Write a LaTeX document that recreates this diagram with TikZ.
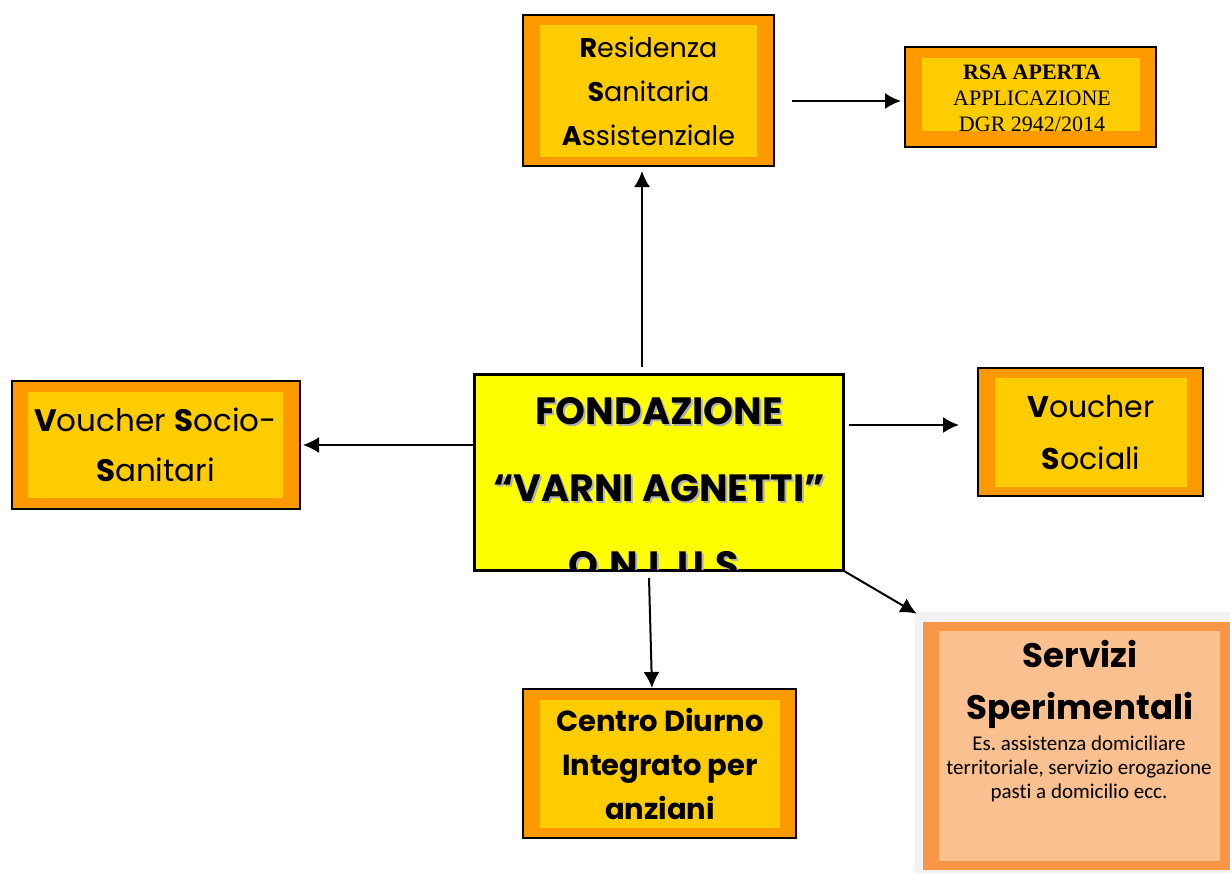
\documentclass[tikz,border=0pt]{standalone}
\usepackage{fontspec}
\setmainfont{Poppins}
\newfontfamily\rsafont{Liberation Serif}
\newfontfamily\descfont[Ligatures=NoCommon]{Carlito}
\usetikzlibrary{arrows.meta}
\definecolor{orangeout}{HTML}{FF9900}
\definecolor{orangein}{HTML}{FFCC00}
\definecolor{yellowfond}{HTML}{FFFF00}
\definecolor{servout}{HTML}{F79646}
\definecolor{servin}{HTML}{FAC090}
\definecolor{servgray}{HTML}{F2F2F2}
\definecolor{textshadow}{HTML}{B0B0B0}
\frenchspacing

\begin{document}
\begin{tikzpicture}[x=0.5pt, y=-0.5pt, >={Latex[length=8pt,width=8pt]},
  outbox/.style={draw, line width=1pt, fill=orangeout, inner sep=0pt},
  inbox/.style={fill=orangein, inner sep=0pt, align=center},
  fondtext/.style={font=\bfseries\fontsize{19}{38.5}\selectfont, align=center, inner sep=0pt},
  arr/.style={->, line width=1pt}]

\useasboundingbox (0,0) rectangle (1230,873);

% Residenza Sanitaria Assistenziale
\node[outbox, minimum width=125.5pt, minimum height=75.5pt] (rsa) at (648.5,90.5) {};
\node[inbox, minimum width=108.5pt, minimum height=66pt, font=\fontsize{13.5}{22}\selectfont] (rsa-in) at (648.5,91)
  {\textbf{R}esidenza\\\textbf{S}anitaria\\\textbf{A}ssistenziale};

% RSA aperta
\node[outbox, minimum width=125.5pt, minimum height=50pt] (aperta) at (1030.5,97) {};
\node[inbox, minimum width=109pt, minimum height=36.5pt] (aperta-in) at (1031,94.5) {};
\node[align=center, inner sep=0pt, font=\rsafont\fontsize{11}{13}\selectfont] (aperta-txt) at (1032,98)
  {\textbf{RSA APERTA}\\APPLICAZIONE\\DGR 2942/2014};

% Fondazione
\node[draw, line width=1pt, fill=yellowfond, minimum width=184pt, minimum height=97.5pt] (fond) at (659,472.5) {};
\begin{scope}
\clip (fond.south west) rectangle (fond.north east);
\node[fondtext, textshadow] (fond-sh) at (661,490) {FONDAZIONE\\“VARNI AGNETTI”\\O.N.L.U.S.};
\node[fondtext] (fond-txt) at (659,488) {FONDAZIONE\\“VARNI AGNETTI”\\O.N.L.U.S.};
\end{scope}
\draw[line width=1pt] (fond.south west) rectangle (fond.north east);

% Voucher Socio-Sanitari
\node[outbox, minimum width=144pt, minimum height=64pt] (vss) at (156,445) {};
\node[inbox, minimum width=127.5pt, minimum height=53pt, font=\fontsize{15.5}{25}\selectfont] (vss-in) at (155.5,445)
  {\textbf{V}oucher \textbf{S}ocio-\\\textbf{S}anitari};

% Voucher Sociali
\node[outbox, minimum width=112.5pt, minimum height=64pt] (vs) at (1090.5,432) {};
\node[inbox, minimum width=96pt, minimum height=54.5pt, font=\fontsize{15}{26}\selectfont] (vs-in) at (1091,432.5)
  {\textbf{V}oucher\\\textbf{S}ociali};

% Centro Diurno Integrato
\node[outbox, minimum width=136.5pt, minimum height=74.5pt] (cdi) at (659.5,763.5) {};
\node[inbox, minimum width=120pt, minimum height=64pt, font=\bfseries\fontsize{14.5}{22}\selectfont] (cdi-in) at (660,764)
  {Centro Diurno\\Integrato per\\anziani};

% Servizi Sperimentali
\node[fill=servgray, inner sep=0pt, minimum width=157.5pt, minimum height=130.5pt] (serv) at (1072.5,742.5) {};
\node[fill=servout, inner sep=0pt, minimum width=153.5pt, minimum height=124pt] (serv-out) at (1076.5,746) {};
\node[fill=servin, inner sep=0pt, minimum width=140.5pt, minimum height=115pt] (serv-in) at (1079.5,746) {};
\node[align=center, inner sep=0pt, font=\bfseries\fontsize{17}{26}\selectfont] (serv-title) at (1080,684)
  {Servizi\\Sperimentali};
\node[align=center, inner sep=0pt, font=\descfont\fontsize{10.5}{12}\selectfont] (serv-desc) at (1079,769)
  {Es. assistenza domiciliare\\territoriale, servizio erogazione\\pasti a domicilio ecc.};

% connectors
\draw[arr] ([xshift=-8.5pt,yshift=3.5pt]fond.north) -- ([xshift=-3.25pt,yshift=-2pt]rsa.south);
\draw[arr, shorten <=8.5pt, shorten >=1.5pt] ([yshift=-5.25pt]rsa.east) -- ([yshift=-5.25pt]rsa.east -| aperta.west);
\draw[arr, shorten >=1pt] ([yshift=13.75pt]fond.west) -- ([yshift=13.75pt]fond.west -| vss.east);
\draw[arr, shorten <=2.5pt, shorten >=9pt] ([yshift=23.75pt]fond.east) -- ([yshift=23.75pt]fond.east -| vs.west);
\draw[arr] ([xshift=-5pt,yshift=-3.5pt]fond.south) -- ([xshift=-3.75pt]cdi.north);
\draw[arr] (fond.south east) -- ([xshift=1pt,yshift=-1pt]serv.north west);

\end{tikzpicture}
\end{document}
